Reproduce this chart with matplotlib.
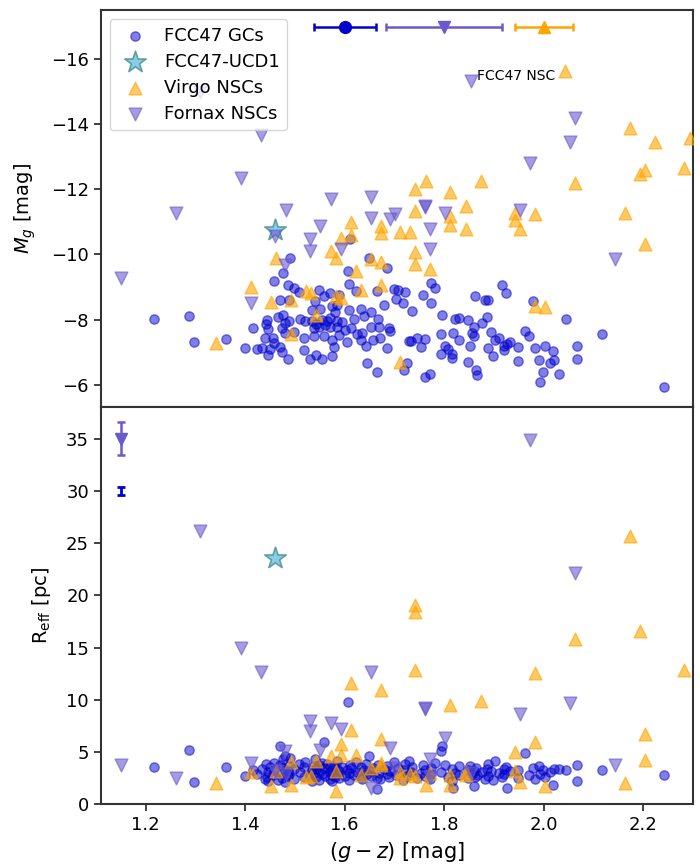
import matplotlib
matplotlib.use("Agg")
import matplotlib.pyplot as plt

# FCC47 globular clusters: colour, absolute mag, effective radius
gc_gz = [1.217, 1.288, 1.297, 1.362, 1.399, 1.415, 1.424, 1.434, 1.439, 1.441,
         1.444, 1.446, 1.446, 1.449, 1.456, 1.458, 1.458, 1.466, 1.470, 1.471,
         1.474, 1.474, 1.476, 1.476, 1.480, 1.481, 1.486, 1.486, 1.488, 1.489,
         1.491, 1.498, 1.499, 1.508, 1.511, 1.518, 1.519, 1.521, 1.531, 1.535,
         1.535, 1.538, 1.539, 1.541, 1.543, 1.543, 1.548, 1.548, 1.551, 1.555,
         1.555, 1.558, 1.558, 1.561, 1.565, 1.571, 1.571, 1.571, 1.575, 1.575,
         1.575, 1.578, 1.580, 1.585, 1.585, 1.585, 1.588, 1.588, 1.595, 1.600,
         1.605, 1.606, 1.608, 1.608, 1.610, 1.612, 1.618, 1.622, 1.625, 1.632,
         1.632, 1.635, 1.638, 1.642, 1.645, 1.648, 1.652, 1.652, 1.657, 1.665,
         1.666, 1.668, 1.669, 1.672, 1.679, 1.685, 1.685, 1.689, 1.692, 1.699,
         1.704, 1.707, 1.717, 1.719, 1.722, 1.725, 1.729, 1.733, 1.735, 1.745,
         1.754, 1.758, 1.762, 1.762, 1.772, 1.774, 1.774, 1.781, 1.794, 1.794,
         1.796, 1.802, 1.807, 1.816, 1.816, 1.818, 1.822, 1.829, 1.830, 1.847,
         1.848, 1.851, 1.855, 1.859, 1.859, 1.861, 1.863, 1.865, 1.876, 1.883,
         1.887, 1.889, 1.889, 1.894, 1.898, 1.903, 1.911, 1.916, 1.920, 1.920,
         1.924, 1.926, 1.932, 1.948, 1.948, 1.962, 1.970, 1.978, 1.983, 1.990,
         1.992, 1.999, 2.002, 2.012, 2.019, 2.021, 2.031, 2.045, 2.067, 2.067,
         2.118, 2.242]
gc_mg = [-8.02, -8.10, -7.30, -7.41, -7.11, -7.74, -7.08, -7.13, -7.44, -7.85,
         -8.00, -7.72, -6.90, -7.10, -7.44, -7.28, -9.18, -8.08, -8.59, -7.16,
         -7.74, -6.99, -9.44, -8.15, -7.59, -7.90, -9.05, -6.80, -7.95, -8.61,
         -9.88, -8.97, -7.61, -8.84, -8.03, -7.05, -7.44, -7.95, -6.79, -8.29,
         -7.95, -7.74, -7.49, -8.56, -7.85, -6.92, -8.90, -7.77, -8.31, -8.00,
         -6.79, -8.72, -7.49, -7.82, -7.95, -8.82, -8.05, -7.77, -8.41, -7.38,
         -6.87, -7.16, -8.22, -8.46, -7.95, -7.77, -8.74, -7.52, -7.92, -7.69,
         -7.30, -9.50, -9.08, -8.28, -10.46, -7.74, -8.03, -8.87, -7.54, -8.31,
         -7.36, -7.59, -8.10, -7.20, -6.67, -9.90, -8.22, -7.77, -7.38, -8.87,
         -6.40, -8.03, -7.77, -7.44, -8.46, -9.59, -7.13, -7.74, -7.64, -8.94,
         -8.64, -8.92, -8.51, -6.46, -8.84, -6.67, -7.33, -7.33, -8.26, -7.42,
         -7.16, -8.74, -7.40, -6.24, -6.34, -9.13, -8.51, -8.97, -7.57, -6.95,
         -8.15, -7.20, -7.10, -6.95, -6.82, -7.59, -8.02, -8.05, -7.38, -7.98,
         -6.70, -7.20, -7.59, -7.77, -7.49, -8.72, -6.44, -6.28, -7.90, -8.59,
         -8.08, -8.59, -7.13, -7.61, -6.87, -7.38, -7.44, -9.05, -7.18, -7.06,
         -8.80, -7.26, -7.30, -7.16, -6.74, -7.64, -7.49, -8.58, -7.13, -6.75,
         -6.08, -6.38, -7.20, -6.65, -7.03, -6.75, -6.33, -8.02, -7.20, -6.79,
         -7.55, -5.94]
gc_reff = [3.56, 5.24, 2.13, 3.59, 2.70, 3.3, 2.9, 3.4, 2.4, 3.9,
           2.6, 3.1, 2.2, 3.6, 2.8, 3.3, 4.0, 2.3, 5.6, 3.8,
           3.0, 2.5, 4.3, 3.5, 2.1, 4.6, 3.2, 2.7, 3.7, 2.9,
           4.4, 3.4, 2.4, 3.9, 3.1, 2.6, 3.6, 4.1, 2.8, 3.3,
           2.2, 3.7, 3.0, 4.3, 2.6, 3.4, 3.8, 2.3, 3.2, 4.0,
           2.9, 6.0, 3.5, 2.7, 3.9, 3.1, 2.4, 3.6, 2.8, 3.3,
           2.2, 3.7, 2.6, 3.4, 4.2, 2.9, 3.2, 2.5, 3.6, 2.7,
           3.3, 9.76, 3.0, 2.3, 3.8, 3.5, 2.8, 4.1, 3.1, 2.6,
           3.6, 2.4, 3.3, 3.9, 2.9, 4.6, 3.2, 2.7, 3.5, 2.5,
           1.43, 3.8, 3.0, 2.4, 3.4, 2.9, 3.7, 2.6, 3.2, 4.1,
           2.8, 3.5, 2.3, 3.3, 3.9, 2.7, 4.13, 3.1, 3.6, 2.5,
           3.0, 3.8, 2.7, 3.3, 2.4, 3.5, 2.9, 4.0, 5.08, 3.1,
           5.62, 3.81, 2.6, 3.4, 2.2, 1.59, 3.0, 3.7, 2.8, 3.3,
           2.5, 3.65, 2.9, 1.75, 3.2, 2.6, 3.5, 2.8, 3.1, 2.4,
           3.4, 3.9, 2.7, 3.2, 2.3, 4.13, 3.0, 2.6, 3.4, 2.9,
           3.6, 1.59, 3.2, 2.5, 3.3, 4.92, 2.8, 3.5, 2.4, 3.72,
           2.9, 3.3, 2.6, 3.1, 1.90, 3.40, 3.40, 3.33, 3.81, 2.22,
           3.33, 2.86]

# FCC47-UCD1
ucd_gz = [1.461]
ucd_mg = [-10.74]
ucd_reff = [23.6]

# Virgo nuclear star clusters
virgo_gz = [1.342, 1.412, 1.452, 1.462, 1.493, 1.493, 1.523, 1.533, 1.543, 1.573,
            1.583, 1.583, 1.593, 1.593, 1.613, 1.613, 1.623, 1.633, 1.653, 1.673,
            1.673, 1.674, 1.674, 1.711, 1.711, 1.732, 1.742, 1.742, 1.742, 1.742,
            1.764, 1.772, 1.812, 1.812, 1.812, 1.843, 1.843, 1.873, 1.943, 1.943,
            1.953, 1.982, 1.983, 2.003, 2.043, 2.063, 2.164, 2.174, 2.194, 2.204,
            2.204, 2.224, 2.282, 2.293]
virgo_mg = [-7.28, -8.99, -8.55, -9.88, -8.60, -7.54, -8.88, -8.80, -8.13, -10.11,
            -9.90, -8.71, -8.67, -10.49, -11.00, -10.60, -9.49, -8.92, -9.87, -10.87,
            -10.67, -9.76, -9.05, -10.70, -6.68, -10.69, -12.02, -11.33, -10.06, -9.72,
            -12.26, -9.54, -11.92, -11.18, -10.89, -11.49, -10.77, -12.26, -11.28, -11.06,
            -10.77, -8.41, -11.23, -8.39, -15.64, -12.18, -11.28, -13.87, -12.46, -12.59,
            -10.33, -13.44, -12.65, -13.59]
virgo_reff = [2.0, 3.12, 1.75, 3.24, 4.03, 1.9, 2.6, 2.7, 4.13, 4.6,
              3.18, 1.27, 5.8, 4.77, 11.6, 7.08, 4.77, 2.86, 3.5, 10.96,
              6.26, 3.97, 3.8, 3.08, 2.5, 2.9, 19.07, 18.4, 12.9, 2.7,
              1.9, 3.02, 9.53, 2.86, 1.9, 3.08, 2.8, 9.94, 5.02, 3.18,
              2.13, 12.55, 5.94, 1.75, 45.0, 15.8, 2.07, 25.7, 16.6, 6.77,
              4.22, 41.0, 12.87, 50.0]

# Fornax nuclear star clusters
fornax_gz = [1.151, 1.262, 1.310, 1.392, 1.412, 1.432, 1.461, 1.481, 1.483, 1.531,
             1.531, 1.551, 1.573, 1.592, 1.653, 1.653, 1.692, 1.702, 1.762, 1.762,
             1.772, 1.772, 1.802, 1.853, 1.953, 1.973, 2.053, 2.062, 2.144]
fornax_mg = [-9.28, -11.26, -14.98, -12.36, -8.51, -13.66, -10.58, -9.69, -11.35, -10.46,
             -10.12, -10.87, -11.71, -10.18, -11.76, -11.13, -11.08, -11.23, -11.49, -11.45,
             -10.77, -10.18, -11.28, -15.33, -11.38, -12.80, -13.46, -14.18, -9.87]
fornax_reff = [3.81, 2.54, 26.2, 15.0, 4.0, 12.65, 3.2, 5.07, 2.9, 8.0,
               7.0, 5.24, 7.77, 7.2, 12.65, 1.6, 5.4, 3.5, 9.12, 9.2,
               4.3, 2.6, 6.36, 3.0, 8.67, 34.9, 9.75, 22.1, 3.81]

# typical uncertainties
err_gz = [1.6, 1.8, 2.0]
err_gz_size = [0.062, 0.116, 0.058]
err_mg = -17.0
err_reff = [30.0, 35.0]
err_reff_size = [0.35, 1.6]
err_reff_gz = 1.15

gc_col = "mediumblue"
fnx_col = "slateblue"
vir_col = "orange"

fig, (ax1, ax2) = plt.subplots(2, 1, figsize=(7, 8.64), dpi=100, sharex=True)
fig.subplots_adjust(left=0.144, right=0.99, top=0.988, bottom=0.069, hspace=0)

for ax, ydata in ((ax1, (gc_mg, ucd_mg, virgo_mg, fornax_mg)),
                  (ax2, (gc_reff, ucd_reff, virgo_reff, fornax_reff))):
    ax.scatter(gc_gz, ydata[0], s=45, color=gc_col, alpha=0.5, label="FCC47 GCs")
    ax.scatter(ucd_gz, ydata[1], s=260, marker="*", facecolor="skyblue",
               edgecolor="cadetblue", linewidth=1.2, label="FCC47-UCD1", zorder=3)
    ax.scatter(virgo_gz, ydata[2], s=85, marker="^", color=vir_col, alpha=0.6,
               label="Virgo NSCs", zorder=3)
    ax.scatter(fornax_gz, ydata[3], s=85, marker="v", color=fnx_col, alpha=0.6,
               label="Fornax NSCs", zorder=3)

# representative error bars
ax1.errorbar(err_gz[0], err_mg, xerr=err_gz_size[0], fmt="o", color=gc_col,
             ms=8.5, capsize=3, elinewidth=1.8, capthick=1.8)
ax1.errorbar(err_gz[1], err_mg, xerr=err_gz_size[1], fmt="v", color=fnx_col,
             ms=9, capsize=3, elinewidth=1.8, capthick=1.8)
ax1.errorbar(err_gz[2], err_mg, xerr=err_gz_size[2], fmt="^", color="orange",
             ms=9, capsize=3, elinewidth=1.8, capthick=1.8)
ax2.errorbar(err_reff_gz, err_reff[0], yerr=err_reff_size[0], fmt="none", ecolor=gc_col,
             capsize=3, elinewidth=2, capthick=2)
ax2.errorbar(err_reff_gz, err_reff[1], yerr=err_reff_size[1], fmt="v", color=fnx_col,
             ms=9, capsize=3, elinewidth=1.8, capthick=1.8)

ax1.text(1.865, -15.49, "FCC47 NSC", fontsize=10, va="center", ha="left")

ax1.set_xlim(1.11, 2.3)
ax1.set_ylim(-5.3, -17.5)
ax2.set_ylim(0, 38)
ax1.set_yticks([-16, -14, -12, -10, -8, -6])
ax2.set_yticks([0, 5, 10, 15, 20, 25, 30, 35])
ax2.set_xticks([1.2, 1.4, 1.6, 1.8, 2.0, 2.2])

ax1.set_ylabel(r"$M_g$ [mag]", fontsize=14, labelpad=9)
ax2.set_ylabel(r"R$_{\rm eff}$ [pc]", fontsize=14, labelpad=9)
ax2.set_xlabel(r"$(g-z)$ [mag]", fontsize=15)

for ax in (ax1, ax2):
    for sp in ax.spines.values():
        sp.set_color("0.2")
        sp.set_linewidth(1.5)
    ax.tick_params(labelsize=13, direction="out", length=5, width=1.3, color="0.2")
ax1.tick_params(axis="x", bottom=False, labelbottom=False)

ax1.legend(loc="upper left", fontsize=13, handletextpad=0.6, borderpad=0.4,
           labelspacing=0.45)

fig.savefig("out.png", dpi=100)
